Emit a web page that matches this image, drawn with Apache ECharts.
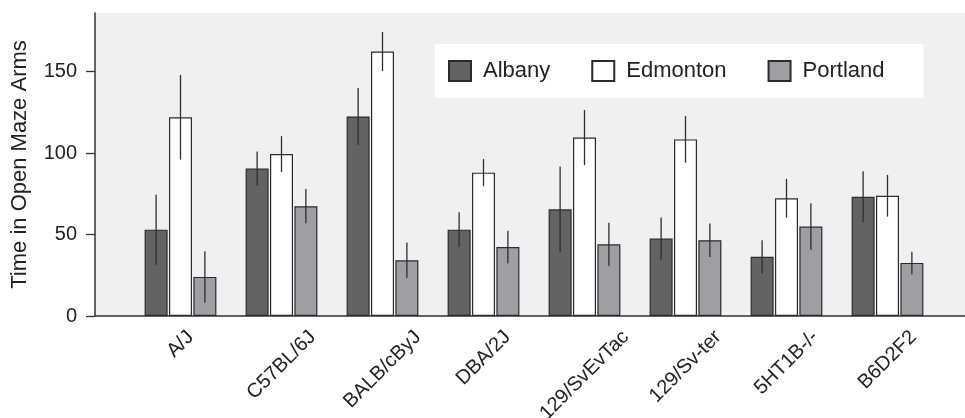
<!DOCTYPE html>
<html>
<head>
<meta charset="utf-8">
<script src="https://cdn.jsdelivr.net/npm/echarts@6/dist/echarts.min.js"></script>
<style>
  html, body { margin: 0; padding: 0; background: #fff; }
  #chart { width: 965px; height: 418px; }
</style>
</head>
<body>
<div id="chart"></div>
<script>
// strains on the x axis
const strains = ['A/J', 'C57BL/6J', 'BALB/cByJ', 'DBA/2J', '129/SvEvTac', '129/Sv-ter', '5HT1B-/-', 'B6D2F2']
const sites = ['Albany', 'Edmonton', 'Portland']

// mean time per site
const albany = [53, 90.5, 122.5, 53, 65.5, 47.5, 36.3, 73.2]
const edmonton = [122, 99.4, 162.4, 88, 109.5, 108.4, 72.3, 73.8]
const portland = [24, 67.4, 34.2, 42.4, 44, 46.5, 54.9, 32.6]

// half length of error bars
const albanyErr = [21.5, 10.5, 17.5, 10.7, 26.2, 13, 10.2, 15.6]
const edmontonErr = [26, 11, 12, 8.3, 16.9, 14.3, 11.9, 12.8]
const portlandErr = [15.8, 10.5, 10.9, 10, 13.3, 10.3, 14.3, 6.9]

const yTicks = [0, 50, 100, 150]

const colors = ['#636366', '#ffffff', '#9d9fa3']
const barWidth = 23
const barGapRatio = 0.06
const fontFamily = '"Liberation Sans", Arial, sans-serif'
const labelSize = 20

// text width, used to centre the 45deg labels under each group
const ctx = document.createElement('canvas').getContext('2d')
ctx.font = labelSize + 'px ' + fontFamily
const labelWidths = strains.map(s => ctx.measureText(s).width)

function errSeries (name, means, errs, k) {
  const step = barWidth * (1 + barGapRatio)
  return {
    name: name + ' err',
    type: 'custom',
    xAxisIndex: 1,
    yAxisIndex: 1,
    z: 5,
    silent: true,
    data: means.map((m, i) => [i, m - errs[i], m + errs[i]]),
    renderItem: (params, api) => {
      const p1 = api.coord([api.value(0), api.value(1)])
      const p2 = api.coord([api.value(0), api.value(2)])
      const x = p1[0] + (k - 1) * step
      return {
        type: 'line',
        shape: { x1: x, y1: p1[1], x2: x, y2: p2[1] },
        style: { stroke: '#2e2e2e', lineWidth: 1.3 }
      }
    }
  }
}

// rotated strain names: bounding box centred on the category, top just under the axis
const strainLabels = {
  type: 'custom',
  xAxisIndex: 1,
  yAxisIndex: 1,
  silent: true,
  clip: false,
  data: strains.map((s, i) => [i, 0]),
  renderItem: (params, api) => {
    const i = params.dataIndex
    const p = api.coord([api.value(0), api.value(1)])
    return {
      type: 'text',
      x: p[0],
      y: p[1] + 18 + labelWidths[i] * Math.SQRT1_2 / 2,
      rotation: Math.PI / 4,
      style: {
        text: strains[i],
        fontSize: labelSize,
        fontFamily: fontFamily,
        fill: '#222',
        align: 'center',
        verticalAlign: 'middle'
      }
    }
  }
}

const chart = echarts.init(document.getElementById('chart'))

const option = {
  animation: false,
  textStyle: { fontFamily: fontFamily },
  legend: {
    data: sites,
    left: 435,
    top: 44,
    icon: 'rect',
    itemWidth: 22,
    itemHeight: 20,
    itemGap: 41,
    padding: [16, 39, 16, 13],
    backgroundColor: '#fff',
    textStyle: { fontSize: 22, color: '#222', padding: [0, 0, 0, 7] }
  },
  grid: [
    { left: 95, right: 0, top: 13, bottom: 102, outerBoundsMode: 'none', containLabel: false, show: true, backgroundColor: '#eff0f2', borderWidth: 0 },
    { left: 130, right: 27, top: 13, bottom: 102, outerBoundsMode: 'none', containLabel: false }
  ],
  xAxis: [
    {
      gridIndex: 0,
      type: 'value',
      min: 0,
      max: 1,
      axisLine: { show: true, lineStyle: { color: '#333', width: 1.5 } },
      axisTick: { show: false },
      axisLabel: { show: false },
      splitLine: { show: false }
    },
    {
      gridIndex: 1,
      type: 'category',
      data: strains,
      axisLine: { show: false },
      axisTick: { show: false },
      axisLabel: { show: false }
    }
  ],
  yAxis: [
    {
      gridIndex: 0,
      type: 'value',
      min: 0,
      max: 186,
      name: 'Time in Open Maze Arms',
      nameLocation: 'middle',
      nameGap: 64,
      nameTextStyle: { fontSize: 22, color: '#222' },
      axisLine: { show: true, lineStyle: { color: '#333', width: 1.5 } },
      axisTick: { show: true, length: 9, customValues: yTicks, lineStyle: { color: '#333', width: 1.3 } },
      axisLabel: { customValues: yTicks, fontSize: 20, color: '#222', margin: 18 },
      splitLine: { show: false }
    },
    { gridIndex: 1, type: 'value', min: 0, max: 186, show: false }
  ],
  series: [
    ...[albany, edmonton, portland].map((d, k) => ({
      name: sites[k],
      type: 'bar',
      xAxisIndex: 1,
      yAxisIndex: 1,
      barWidth: barWidth,
      barGap: (barGapRatio * 100) + '%',
      itemStyle: { color: colors[k], borderColor: '#2b2b2b', borderWidth: 1.2 },
      data: d
    })),
    errSeries('Albany', albany, albanyErr, 0),
    errSeries('Edmonton', edmonton, edmontonErr, 1),
    errSeries('Portland', portland, portlandErr, 2),
    strainLabels
  ]
}

chart.setOption(option)
</script>
</body>
</html>
